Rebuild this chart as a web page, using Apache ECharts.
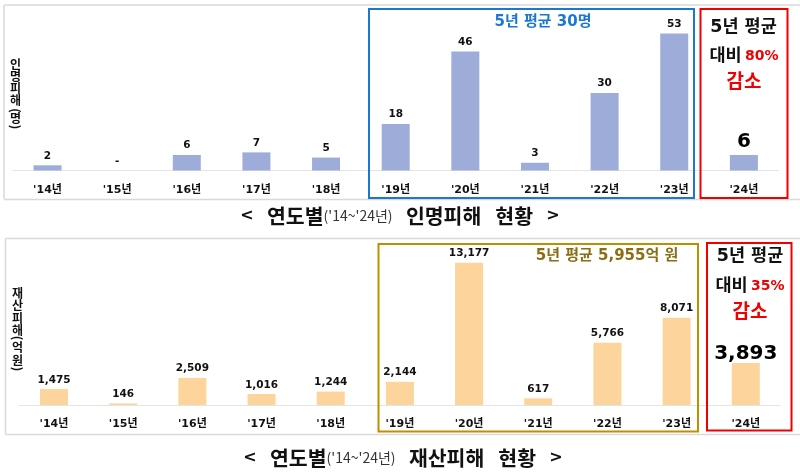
<!DOCTYPE html>
<html><head><meta charset="utf-8">
<style>html,body{margin:0;padding:0;background:#fff}#c{width:800px;height:473px}</style>
<script src="https://cdn.jsdelivr.net/npm/echarts@6/dist/echarts.min.js"></script>
</head><body><div id="c"></div>
<script>
const years = ["'14년","'15년","'16년","'17년","'18년","'19년","'20년","'21년","'22년","'23년","'24년"];
const casualties = [2,0,6,7,5,18,46,3,30,53,6];
const damage = [1475,146,2509,1016,1244,2144,13177,617,5766,8071,3893];
const FONT = '"DejaVu Sans","Noto Sans CJK KR",sans-serif';
const KR = '"Noto Sans CJK KR",sans-serif';

const fmt = v => v === 0 ? '-' : v.toLocaleString('en-US');
const barData = (arr, dist) => arr.map((v, i) => i === arr.length - 1
  ? {value: v, label: {fontSize: 20, distance: dist, color: '#000'}}
  : {value: v});
const barSeries = (arr, color, idx, dist) => ({
  type: 'bar', xAxisIndex: idx, yAxisIndex: idx, barWidth: 28, silent: true,
  data: barData(arr, dist),
  itemStyle: {color},
  label: {show: true, position: 'top', distance: 4, fontFamily: FONT, fontWeight: 'bold',
    fontSize: 10.5, color: '#111', formatter: p => fmt(p.value)}
});
const xAxis = idx => ({
  type: 'category', gridIndex: idx, data: years,
  axisLine: {lineStyle: {color: '#e4e4e4', width: 1}}, axisTick: {show: false},
  axisLabel: {margin: 14, fontFamily: FONT, fontWeight: 'bold', fontSize: 11, color: '#111', interval: 0}
});
const yAxis = (idx, max) => ({type: 'value', gridIndex: idx, min: 0, max, show: false, splitLine: {show: false}});

const box = (x, y, w, h, stroke, lineWidth) => ({type: 'rect', silent: true, z: 10,
  shape: {x, y, width: w, height: h}, style: {fill: 'none', stroke, lineWidth}});
const line = (x1, y1, x2, y2) => ({type: 'line', silent: true, z: 1,
  shape: {x1, y1, x2, y2}, style: {stroke: '#d9d9d9', lineWidth: 1.5}});
const txt = (x, y, text, fontSize, fill) => ({type: 'text', silent: true, z: 11, x, y,
  style: {text, fontSize, fill, fontWeight: 'bold', fontFamily: FONT, align: 'center', verticalAlign: 'middle'}});
const richTxt = (x, y, text, rich) => ({type: 'text', silent: true, z: 11, x, y,
  style: {text, rich, align: 'center', verticalAlign: 'middle'}});
const titleRich = {
  a: {fontSize: 20.5, fontWeight: 'bold', fontFamily: KR, fill: '#111'},
  s: {fontSize: 16, fontWeight: 'bold', fontFamily: FONT, fill: '#111'},
  b: {fontSize: 14, fontWeight: 400, fontFamily: KR, fill: '#333'}
};
const vertical = (x, ys, chars) => chars.map((c, i) => ({
  type: 'text', silent: true, z: 11, x, y: ys[i], rotation: (c === '(' || c === ')') ? -Math.PI / 2 : 0,
  style: {text: c, fontSize: 12, fontWeight: 'bold', fontFamily: KR, fill: '#111', align: 'center', verticalAlign: 'middle'}
}));
const redRich = {
  k: {fontSize: 17.5, fontWeight: 'bold', fontFamily: FONT, fill: '#111'},
  p: {fontSize: 14, fontWeight: 'bold', fontFamily: FONT, fill: '#f00000'}
};

const chart = echarts.init(document.getElementById('c'), null, {renderer: 'canvas'});
chart.setOption({
  backgroundColor: '#fff', animation: false,
  grid: [
    {left: 12.7, width: 766, top: 15.3, height: 155.2},
    {left: 19.4, width: 761, top: 243, height: 162}
  ],
  xAxis: [xAxis(0), xAxis(1)],
  yAxis: [yAxis(0, 60), yAxis(1, 15000)],
  series: [barSeries(casualties, '#9dacd9', 0, 3), barSeries(damage, '#fdd49b', 1, -1)],
  graphic: {elements: [
    line(4, 5, 800, 5), line(4, 5, 4, 199), line(4, 199.5, 800, 199.5),
    line(5.5, 238.5, 800, 238.5), line(5.5, 238.5, 5.5, 434.5), line(5.5, 434.5, 800, 434.5),
    box(369, 9, 325, 189, '#1a78d2', 2),
    box(700.5, 9, 87, 189, '#f00000', 2),
    box(378.5, 244, 319.5, 187.5, '#bf8f00', 2),
    box(707, 243, 84.5, 187.5, '#f00000', 2),
    txt(543, 22, '5년 평균 30명', 15, '#1a78d2'),
    txt(607, 256, '5년 평균 5,955억 원', 15, '#8a6d14'),
    richTxt(743.5, 27, '{k|5년 평균}', redRich),
    richTxt(744, 56, '{k|대비} {p|80%}', redRich),
    txt(744, 83, '감소', 19, '#f00000'),
    richTxt(750, 256, '{k|5년 평균}', redRich),
    richTxt(750, 286, '{k|대비} {p|35%}', redRich),
    txt(750, 313, '감소', 19, '#f00000'),
    richTxt(400, 216, "{s|<}    {a|연도별}{b|('14~'24년)}    {a|인명피해   현황}    {s|>}", titleRich),
    richTxt(403, 458, "{s|<}    {a|연도별}{b|('14~'24년)}    {a|재산피해   현황}    {s|>}", titleRich),
    ...vertical(15.5, [64,76,88,100,110.5,118.5,127], ['인','명','피','해','(','명',')']),
    ...vertical(17.5, [293,305,318,330,338,347,360,369], ['재','산','피','해','(','억','원',')'])
  ]}
});
</script></body></html>
